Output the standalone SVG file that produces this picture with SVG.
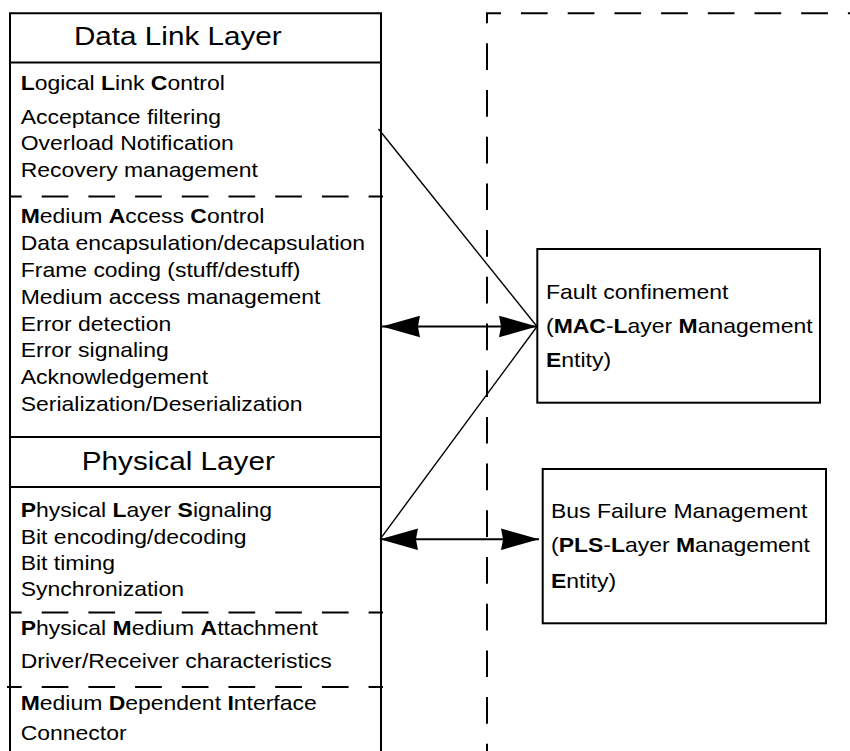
<svg xmlns="http://www.w3.org/2000/svg" width="850" height="751" viewBox="0 0 850 751">
  <style>
    .t { font-family: "Liberation Sans", Arial, Helvetica, sans-serif; font-size: 20.5px; fill: #000; }
    .h { font-family: "Liberation Sans", Arial, Helvetica, sans-serif; font-size: 26.5px; fill: #000; text-anchor: middle; }
    .b { font-weight: bold; }
    .solid { stroke: #000; stroke-width: 2; fill: none; }
    .dash { stroke: #000; stroke-width: 2; fill: none; stroke-dasharray: 26.7 20; }
    .thin { stroke: #000; stroke-width: 1.4; fill: none; }
    .shaft { stroke: #000; stroke-width: 2; fill: none; }
  </style>
  <defs>
    <marker id="ah" markerUnits="userSpaceOnUse" markerWidth="38" markerHeight="22" viewBox="0 0 37 21" refX="37" refY="10.5" orient="auto-start-reverse">
      <path d="M0,0 L37,10.5 L0,21 L2,10.5 Z" fill="#000"/>
    </marker>
  </defs>
  <rect width="850" height="751" fill="#fff"/>

  <!-- Management domain (dashed outline) -->
  <g id="mgmt-domain">
    <line class="dash" x1="487" y1="13.3" x2="487" y2="751" stroke-dashoffset="16.7"/>
    <line class="dash" x1="486" y1="13.3" x2="850" y2="13.3" stroke-dashoffset="11.7"/>
  </g>

  <!-- Left layer stack -->
  <g id="layer-stack">
    <path class="solid" d="M10,751 V13.3 H381 V751"/>
    <line class="solid" x1="10" y1="62.5" x2="381" y2="62.5"/>
    <line class="dash" x1="10" y1="196.5" x2="383" y2="196.5" stroke-dashoffset="15"/>
    <line class="solid" x1="10" y1="437" x2="381" y2="437"/>
    <line class="solid" x1="10" y1="487" x2="381" y2="487"/>
    <line class="dash" x1="10" y1="612.5" x2="383" y2="612.5" stroke-dashoffset="15"/>
    <line class="dash" x1="7" y1="687" x2="383" y2="687" stroke-dashoffset="12"/>
  </g>

  <g id="data-link-header" transform="scale(1.12,1)">
    <text class="h" x="158.8" y="45">Data Link Layer</text>
  </g>

  <g id="llc" transform="scale(1.12,1)">
    <text class="t" x="18.5" y="90"><tspan class="b">L</tspan>ogical <tspan class="b">L</tspan>ink <tspan class="b">C</tspan>ontrol</text>
    <text class="t" x="18.5" y="124">Acceptance filtering</text>
    <text class="t" x="18.5" y="150.5">Overload Notification</text>
    <text class="t" x="18.5" y="177">Recovery management</text>
  </g>

  <g id="mac" transform="scale(1.12,1)">
    <text class="t" x="18.5" y="223"><tspan class="b">M</tspan>edium <tspan class="b">A</tspan>ccess <tspan class="b">C</tspan>ontrol</text>
    <text class="t" x="18.5" y="250">Data encapsulation/decapsulation</text>
    <text class="t" x="18.5" y="277">Frame coding (stuff/destuff)</text>
    <text class="t" x="18.5" y="304">Medium access management</text>
    <text class="t" x="18.5" y="331">Error detection</text>
    <text class="t" x="18.5" y="357.5">Error signaling</text>
    <text class="t" x="18.5" y="384.5">Acknowledgement</text>
    <text class="t" x="18.5" y="411.5">Serialization/Deserialization</text>
  </g>

  <g id="physical-header" transform="scale(1.12,1)">
    <text class="h" x="159.2" y="470">Physical Layer</text>
  </g>

  <g id="pls" transform="scale(1.12,1)">
    <text class="t" x="18.5" y="517"><tspan class="b">P</tspan>hysical <tspan class="b">L</tspan>ayer <tspan class="b">S</tspan>ignaling</text>
    <text class="t" x="18.5" y="544">Bit encoding/decoding</text>
    <text class="t" x="18.5" y="570">Bit timing</text>
    <text class="t" x="18.5" y="596.5">Synchronization</text>
  </g>

  <g id="pma" transform="scale(1.12,1)">
    <text class="t" x="18.5" y="635"><tspan class="b">P</tspan>hysical <tspan class="b">M</tspan>edium <tspan class="b">A</tspan>ttachment</text>
    <text class="t" x="18.5" y="668">Driver/Receiver characteristics</text>
  </g>

  <g id="mdi" transform="scale(1.12,1)">
    <text class="t" x="18.5" y="710"><tspan class="b">M</tspan>edium <tspan class="b">D</tspan>ependent <tspan class="b">I</tspan>nterface</text>
    <text class="t" x="18.5" y="740">Connector</text>
  </g>

  <!-- Fault confinement node -->
  <g id="fault-confinement">
    <rect class="solid" x="537.3" y="249" width="282.7" height="153.7"/>
    <g transform="scale(1.12,1)">
      <text class="t" x="487.5" y="299">Fault confinement</text>
      <text class="t" x="487.5" y="333">(<tspan class="b">MAC</tspan>-<tspan class="b">L</tspan>ayer <tspan class="b">M</tspan>anagement</text>
      <text class="t" x="487.5" y="367.5"><tspan class="b">E</tspan>ntity)</text>
    </g>
  </g>

  <!-- Bus failure management node -->
  <g id="bus-failure">
    <rect class="solid" x="542.7" y="469" width="283.3" height="154.3"/>
    <g transform="scale(1.12,1)">
      <text class="t" x="492" y="518">Bus Failure Management</text>
      <text class="t" x="492" y="551.7">(<tspan class="b">PLS</tspan>-<tspan class="b">L</tspan>ayer <tspan class="b">M</tspan>anagement</text>
      <text class="t" x="492" y="588"><tspan class="b">E</tspan>ntity)</text>
    </g>
  </g>

  <!-- Connectors -->
  <g id="connectors">
    <line class="thin" x1="378.5" y1="129" x2="537" y2="326.5"/>
    <line class="thin" x1="537" y1="326.5" x2="380" y2="539.3"/>
    <line class="shaft" x1="382" y1="326.5" x2="537" y2="326.5" marker-start="url(#ah)" marker-end="url(#ah)"/>
    <line class="shaft" x1="380" y1="539.3" x2="539" y2="539.3" marker-start="url(#ah)" marker-end="url(#ah)"/>
  </g>
</svg>
